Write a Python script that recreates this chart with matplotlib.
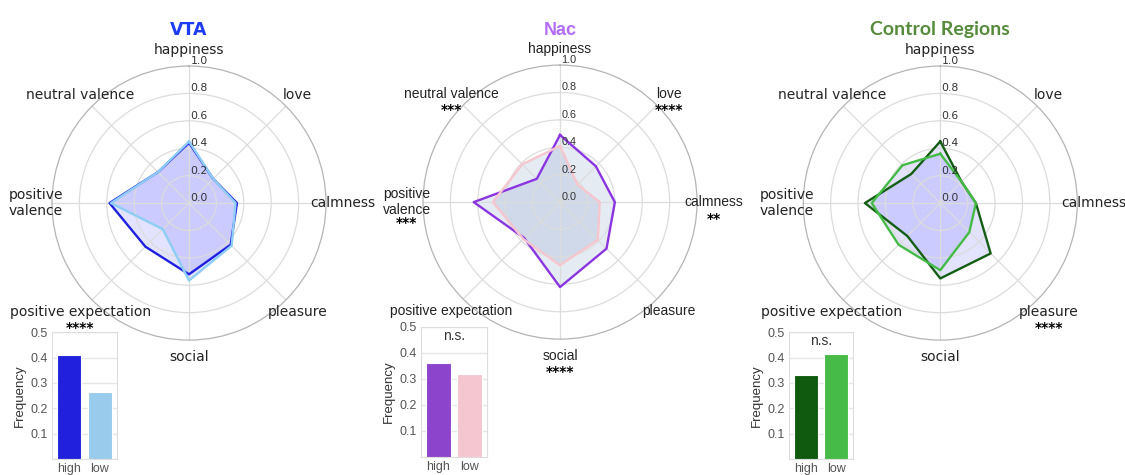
import matplotlib
matplotlib.use('Agg')
import matplotlib.pyplot as plt
import numpy as np

# radar categories, clockwise from the top
cats = ['happiness', 'love', 'calmness', 'pleasure', 'social',
        'positive expectation', 'positive\nvalence', 'neutral valence']

vta_high = [0.44, 0.25, 0.35, 0.43, 0.52, 0.45, 0.58, 0.32]
vta_low = [0.45, 0.25, 0.34, 0.44, 0.565, 0.27, 0.57, 0.32]
nac_high = [0.49, 0.37, 0.40, 0.48, 0.62, 0.37, 0.63, 0.24]
nac_low = [0.41, 0.18, 0.29, 0.39, 0.46, 0.38, 0.49, 0.39]
ctl_high = [0.45, 0.22, 0.26, 0.52, 0.55, 0.34, 0.55, 0.30]
ctl_low = [0.36, 0.22, 0.26, 0.30, 0.49, 0.43, 0.50, 0.39]

# significance marks under category labels
vta_sig = {'positive expectation': '****'}
nac_sig = {'neutral valence': '***', 'love': '****', 'calmness': '**',
           'positive\nvalence': '***', 'social': '****'}
ctl_sig = {'pleasure': '****'}

groups = ['high', 'low']
vta_freq = [0.41, 0.265]
nac_freq = [0.36, 0.32]
ctl_freq = [0.33, 0.415]

rticks = [0.0, 0.2, 0.4, 0.6, 0.8, 1.0]

panels = [
    dict(title='VTA', tcol='#1f3cf5', tfont='DejaVu Sans', tsize=12.5,
         font='DejaVu Sans', high=vta_high, low=vta_low, sig=vta_sig,
         lc=('#1f1fe0', '#8ecdf5'), fill='#2a2aff', falpha=0.13,
         freq=vta_freq, bc=('#2121dd', '#99cbec'), ns=False,
         pos=[0.0462, 0.284, 0.2436, 0.577], bpos=[0.0462, 0.0337, 0.0578, 0.267]),
    dict(title='Nac', tcol='#b36cf5', tfont='Liberation Sans', tsize=13,
         font='Liberation Sans', high=nac_high, low=nac_low, sig=nac_sig,
         lc=('#8a35e0', '#f6c6cf'), fill='#4c72b0', falpha=0.14,
         freq=nac_freq, bc=('#8d44cc', '#f5c6cf'), ns=True,
         pos=[0.376, 0.286, 0.2436, 0.577], bpos=[0.3742, 0.0379, 0.0587, 0.2737]),
    dict(title='Control Regions', tcol='#558b3b', tfont='Lato', tsize=14,
         font='DejaVu Sans', high=ctl_high, low=ctl_low, sig=ctl_sig,
         lc=('#145e14', '#44bb44'), fill='#2a2aff', falpha=0.13,
         freq=ctl_freq, bc=('#0f5a0f', '#47bb47'), ns=True,
         pos=[0.714, 0.284, 0.2436, 0.577], bpos=[0.7013, 0.0337, 0.0569, 0.267]),
]

fig = plt.figure(figsize=(11.25, 4.75), dpi=100)
fig.patch.set_facecolor('white')

angles = np.arange(len(cats)) * 2 * np.pi / len(cats)
closed = np.append(angles, angles[0])

for p in panels:
    ax = fig.add_axes(p['pos'], projection='polar')
    ax.set_theta_offset(np.pi / 2)
    ax.set_theta_direction(-1)
    ax.set_ylim(0, 1)
    ax.set_yticks([0.2, 0.4, 0.6, 0.8])
    ax.set_yticklabels([])
    ax.set_xticks(angles)
    ax.set_xticklabels([])
    ax.grid(color='#dcdcdc', lw=0.9)
    ax.spines['polar'].set_color('#b4b4b4')
    ax.spines['polar'].set_linewidth(0.9)

    for vals, c in [(p['high'], p['lc'][0]), (p['low'], p['lc'][1])]:
        v = np.append(vals, vals[0])
        ax.fill(closed, v, color=p['fill'], alpha=p['falpha'], lw=0)
        ax.plot(closed, v, color=c, lw=1.7)

    for r in rticks:
        ax.annotate('%.1f' % r, xy=(0, r), xytext=(1, 0),
                    textcoords='offset points', ha='left', va='bottom',
                    fontsize=7.8, color='#333333', family=p['font'])

    for th, name in zip(angles, cats):
        ax.text(th, 1.12, name, ha='center', va='center', fontsize=10,
                color='#222222', family=p['font'])
        if name in p['sig']:
            off = -15 if '\n' in name else -12
            ax.annotate(p['sig'][name], xy=(th, 1.12), xytext=(0, off),
                        textcoords='offset points', ha='center', va='center',
                        fontsize=10, fontweight='bold', color='black',
                        annotation_clip=False)

    ax.set_title(p['title'], color=p['tcol'], fontsize=p['tsize'],
                 fontweight='bold', family=p['tfont'], pad=22)

    # bar inset
    bx = fig.add_axes(p['bpos'])
    bx.bar([0, 1], p['freq'], width=0.8, color=p['bc'], edgecolor='white',
           lw=0.8, zorder=3)
    bx.set_xlim(-0.55, 1.55)
    bx.set_ylim(0, 0.5)
    bx.set_yticks([0.1, 0.2, 0.3, 0.4, 0.5])
    bx.set_xticks([0, 1])
    bx.set_xticklabels(groups)
    bx.grid(axis='y', color='#e6e6e6', lw=1, zorder=0)
    for s in bx.spines.values():
        s.set_color('#dddddd')
    bx.tick_params(length=0, labelsize=9, colors='#555555', pad=3)
    for lab in bx.get_xticklabels() + bx.get_yticklabels():
        lab.set_family('Liberation Sans')
    bx.set_ylabel('Frequency', fontsize=9.5, color='#333333',
                  family='Liberation Sans', labelpad=3)
    if p['ns']:
        bx.text(0.5, 0.465, 'n.s.', ha='center', va='center', fontsize=10,
                color='#333333', family='Liberation Sans')

fig.savefig('out.png', dpi=100, facecolor='white')
